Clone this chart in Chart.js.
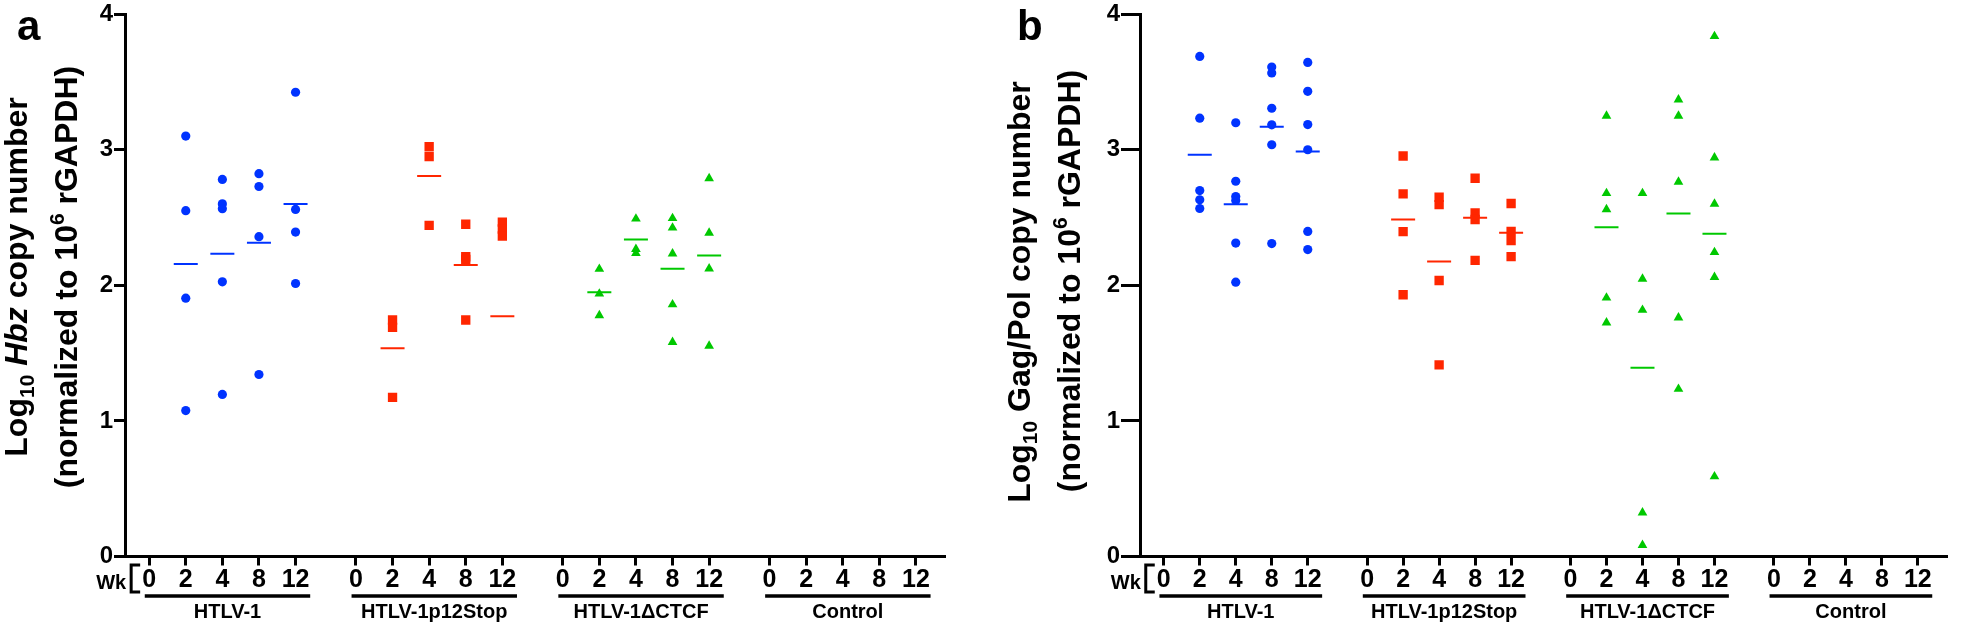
<!DOCTYPE html>
<html>
<head>
<meta charset="utf-8">
<script src="https://cdn.jsdelivr.net/npm/chart.js@4.4.0/dist/chart.umd.min.js"></script>
<style>
html,body{margin:0;padding:0;background:#fff;}
#wrap{position:relative;width:1961px;height:626px;overflow:hidden;background:#fff;}
#ca{position:absolute;left:0;top:0;}
#cb{position:absolute;left:1000px;top:0;}
</style>
</head>
<body>
<div id="wrap">
<canvas id="ca" width="1000" height="626"></canvas>
<canvas id="cb" width="961" height="626"></canvas>
</div>
<script>
// ---------- data ----------
const weekLabels = ['0', '2', '4', '8', '12'];
const groupNames = ['HTLV-1', 'HTLV-1p12Stop', 'HTLV-1\u0394CTCF', 'Control'];
const yTickValues = [0, 1, 2, 3, 4];

// Panel a: Log10 Hbz copy number (index = week 0,2,4,8,12)
const hbzHTLV1 = [[], [3.10, 2.55, 1.905, 1.076], [2.78, 2.60, 2.564, 2.025, 1.195], [2.823, 2.728, 2.358, 1.342], [3.423, 2.559, 2.392, 2.013]];
const hbzHTLV1Mean = [null, 2.157, 2.233, 2.314, 2.60];
const hbzP12Stop = [[], [1.744, 1.69, 1.173], [3.021, 2.948, 2.441], [2.45, 2.21, 2.19, 1.744], [2.465, 2.415, 2.363]];
const hbzP12StopMean = [null, 1.536, 2.806, 2.15, 1.771];
const hbzCTCF = [[], [2.12, 1.937, 1.778], [2.49, 2.266, 2.236], [2.494, 2.424, 2.233, 1.858, 1.58], [2.788, 2.386, 2.122, 1.553]];
const hbzCTCFMean = [null, 1.949, 2.337, 2.122, 2.219];
const hbzControl = [[], [], [], [], []];
const hbzControlMean = [null, null, null, null, null];

// Panel b: Log10 Gag/Pol copy number
const gagHTLV1 = [[], [3.687, 3.232, 2.698, 2.63, 2.566], [3.198, 2.767, 2.654, 2.625, 2.311, 2.023], [3.609, 3.565, 3.305, 3.183, 3.036, 2.307], [3.643, 3.43, 3.185, 2.999, 2.397, 2.263]];
const gagHTLV1Mean = [null, 2.963, 2.598, 3.168, 2.987];
const gagP12Stop = [[], [2.953, 2.674, 2.395, 1.93], [2.649, 2.595, 2.035, 1.413], [2.789, 2.534, 2.485, 2.184], [2.603, 2.397, 2.329, 2.211]];
const gagP12StopMean = [null, 2.485, 2.175, 2.498, 2.388];
const gagCTCF = [[], [3.249, 2.678, 2.559, 1.908, 1.724], [2.678, 2.047, 1.817, 0.323, 0.084], [3.369, 3.249, 2.762, 1.761, 1.235], [3.836, 2.941, 2.6, 2.243, 2.06, 0.59]];
const gagCTCFMean = [null, 2.427, 1.391, 2.529, 2.38];
const gagControl = [[], [], [], [], []];
const gagControlMean = [null, null, null, null, null];

// ---------- layout helpers ----------
const GROUP_STEP = 5.65;
function pos(g, i) { return g * GROUP_STEP + i; }
const tickPositions = [];
groupNames.forEach((_, g) => weekLabels.forEach((_, i) => tickPositions.push(pos(g, i))));

const FONT = '"Liberation Sans", Arial, Helvetica, sans-serif';
const BLUE = '#0033ff', RED = '#ff2600', GREEN = '#00c800';
const styles = [
  { color: BLUE, pointStyle: 'circle', radius: 4.6 },
  { color: RED, pointStyle: 'rect', radius: 6.6 },
  { color: GREEN, pointStyle: 'triangle', radius: 5.6 },
  { color: '#000', pointStyle: 'circle', radius: 4.6 }
];

function toPoints(arr, g) {
  const out = [];
  arr.forEach((vals, i) => vals.forEach(v => out.push({ x: pos(g, i), y: v })));
  return out;
}
function toMeans(arr, g) {
  const out = [];
  arr.forEach((v, i) => { if (v !== null) out.push({ x: pos(g, i), y: v }); });
  return out;
}

function buildDatasets(series, means) {
  const ds = [];
  series.forEach((arr, g) => {
    const st = styles[g];
    ds.push({
      label: groupNames[g],
      data: toPoints(arr, g),
      pointStyle: st.pointStyle,
      pointRadius: st.radius,
      backgroundColor: st.color,
      borderColor: st.color,
      borderWidth: 0,
      showLine: false
    });
    ds.push({
      label: groupNames[g] + ' mean',
      data: toMeans(means[g], g),
      pointStyle: 'line',
      pointRadius: 12,
      borderColor: st.color,
      backgroundColor: st.color,
      borderWidth: 2,
      showLine: false
    });
  });
  return ds;
}

function drawRich(ctx, segs, cx, cy) {
  // rotated -90deg, baseline at cx, centred on cy
  ctx.save();
  ctx.translate(cx, cy);
  ctx.rotate(-Math.PI / 2);
  let total = 0;
  segs.forEach(s => { ctx.font = s.f; total += ctx.measureText(s.t).width; });
  let x = -total / 2;
  ctx.textBaseline = 'alphabetic';
  ctx.textAlign = 'left';
  ctx.fillStyle = '#000';
  segs.forEach(s => {
    ctx.font = s.f;
    ctx.fillText(s.t, x, s.dy || 0);
    x += ctx.measureText(s.t).width;
  });
  ctx.restore();
}

const decorPlugin = {
  id: 'decor',
  afterDraw(chart, args, o) {
    const ctx = chart.ctx;
    const xs = chart.scales.x;
    ctx.save();
    // panel letter
    ctx.fillStyle = '#000';
    ctx.font = 'bold 42px ' + FONT;
    ctx.textAlign = 'left';
    ctx.textBaseline = 'alphabetic';
    ctx.fillText(o.letter, o.letterX, 40);
    // y title
    drawRich(ctx, o.title1, o.t1x, o.t1y);
    drawRich(ctx, o.title2, o.t2x, o.t2y);
    // Wk [
    const x0 = xs.getPixelForValue(pos(0, 0));
    ctx.font = 'bold 20px ' + FONT;
    ctx.textAlign = 'right';
    ctx.fillText('Wk', x0 - 23, 589);
    ctx.strokeStyle = '#000';
    ctx.lineWidth = 3;
    ctx.beginPath();
    ctx.moveTo(x0 - 9, 565);
    ctx.lineTo(x0 - 18, 565);
    ctx.lineTo(x0 - 18, 592);
    ctx.lineTo(x0 - 9, 592);
    ctx.stroke();
    // group underlines + names
    ctx.lineWidth = 3.5;
    ctx.lineCap = 'butt';
    ctx.font = 'bold 20px ' + FONT;
    ctx.textAlign = 'center';
    groupNames.forEach((name, g) => {
      const a = xs.getPixelForValue(pos(g, 0) - 0.12);
      const b = xs.getPixelForValue(pos(g, 4) + 0.4);
      ctx.beginPath();
      ctx.moveTo(a, 596);
      ctx.lineTo(b, 596);
      ctx.stroke();
      ctx.fillText(name, (a + b) / 2, 618);
    });
    ctx.restore();
  }
};

function makePanel(id, series, means, yAxisWidth, yTickLen, canvasW, plug) {
  const xMin = -0.66, xMax = 21.76;
  const pxPerUnit = 36.6;
  const right = yAxisWidth + pxPerUnit * (xMax - xMin);
  return new Chart(document.getElementById(id), {
    type: 'scatter',
    data: { datasets: buildDatasets(series, means) },
    options: {
      responsive: false,
      animation: false,
      events: [],
      layout: { padding: { left: 0, right: Math.max(0, canvasW - right), top: 11.7, bottom: 0 } },
      plugins: { legend: { display: false }, tooltip: { enabled: false }, decor: plug },
      scales: {
        x: {
          type: 'linear', min: xMin, max: xMax, bounds: 'data',
          afterBuildTicks: s => { s.ticks = tickPositions.map(v => ({ value: v })); },
          afterFit: s => { s.height = 626 - 556.5; },
          ticks: {
            autoSkip: false, maxRotation: 0, minRotation: 0, padding: 2,
            color: '#000', font: { family: FONT, size: 25, weight: 'bold', lineHeight: 1 },
            callback: (v, i) => weekLabels[i % weekLabels.length]
          },
          grid: { display: true, drawOnChartArea: false, drawTicks: true, tickLength: 9, tickWidth: 3, tickColor: '#000' },
          border: { display: true, width: 3, color: '#000' }
        },
        y: {
          min: 0, max: 4,
          afterBuildTicks: s => { s.ticks = yTickValues.map(v => ({ value: v })); },
          afterFit: s => { s.width = yAxisWidth; },
          ticks: { padding: 1, color: '#000', font: { family: FONT, size: 24, weight: 'bold', lineHeight: 0.9 } },
          grid: { display: true, drawOnChartArea: false, drawTicks: true, tickLength: yTickLen, tickWidth: 3, tickColor: '#000' },
          border: { display: true, width: 3, color: '#000' }
        }
      }
    },
    plugins: [decorPlugin]
  });
}

const B32 = 'bold 32px ' + FONT, B21 = 'bold 21px ' + FONT, BI32 = 'italic bold 32px ' + FONT;

makePanel('ca',
  [hbzHTLV1, hbzP12Stop, hbzCTCF, hbzControl],
  [hbzHTLV1Mean, hbzP12StopMean, hbzCTCFMean, hbzControlMean],
  125, 11, 1000,
  {
    letter: 'a', letterX: 17,
    title1: [{ t: 'Log', f: B32 }, { t: '10', f: B21, dy: 7 }, { t: ' ', f: B32 }, { t: 'Hbz', f: BI32 }, { t: ' copy number', f: B32 }],
    title2: [{ t: '(normalized to 10', f: B32 }, { t: '6', f: B21, dy: -13 }, { t: ' rGAPDH)', f: B32 }],
    t1x: 27, t1y: 277, t2x: 77, t2y: 277
  });

makePanel('cb',
  [gagHTLV1, gagP12Stop, gagCTCF, gagControl],
  [gagHTLV1Mean, gagP12StopMean, gagCTCFMean, gagControlMean],
  140, 19, 961,
  {
    letter: 'b', letterX: 17,
    title1: [{ t: 'Log', f: B32 }, { t: '10', f: B21, dy: 7 }, { t: ' Gag/Pol copy number', f: B32 }],
    title2: [{ t: '(normalized to 10', f: B32 }, { t: '6', f: B21, dy: -13 }, { t: ' rGAPDH)', f: B32 }],
    t1x: 30, t1y: 292, t2x: 80, t2y: 281
  });
</script>
</body>
</html>
